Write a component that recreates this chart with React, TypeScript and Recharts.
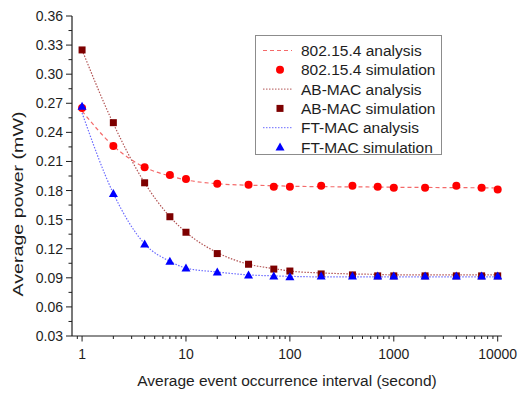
import { LineChart, Line, XAxis, YAxis, Legend } from "recharts";

// event interval (s) on a log axis
const intervals = [1, 2, 4, 7, 10, 20, 40, 70, 100, 200, 400, 700, 1000, 2000, 4000, 7000, 10000];

const ieeeAnalysis = [0.262, 0.226, 0.204, 0.195, 0.191, 0.187, 0.1855, 0.185, 0.1845, 0.184, 0.1838, 0.1836, 0.1834, 0.1832, 0.183, 0.1828, 0.1826];
const ieeeSimulation = [0.265, 0.226, 0.204, 0.196, 0.192, 0.187, 0.186, 0.184, 0.184, 0.185, 0.185, 0.184, 0.183, 0.183, 0.185, 0.183, 0.181];
const abmacAnalysis = [0.325, 0.249, 0.188, 0.153, 0.137, 0.116, 0.104, 0.0995, 0.097, 0.095, 0.094, 0.0935, 0.093, 0.093, 0.093, 0.093, 0.093];
const abmacSimulation = [0.325, 0.25, 0.188, 0.153, 0.137, 0.115, 0.104, 0.099, 0.097, 0.094, 0.093, 0.092, 0.092, 0.092, 0.092, 0.092, 0.092];
const ftmacAnalysis = [0.26, 0.177, 0.125, 0.107, 0.1, 0.096, 0.093, 0.092, 0.0915, 0.091, 0.091, 0.091, 0.091, 0.091, 0.091, 0.091, 0.091];
const ftmacSimulation = [0.267, 0.177, 0.125, 0.107, 0.1, 0.096, 0.093, 0.092, 0.091, 0.092, 0.092, 0.092, 0.092, 0.092, 0.092, 0.092, 0.092];

const xMajorTicks = [1, 10, 100, 1000, 10000];
const xMinorTicks = [0.9, 2, 3, 4, 5, 6, 7, 8, 9, 20, 30, 40, 50, 60, 70, 80, 90, 200, 300, 400, 500, 600, 700, 800, 900, 2000, 3000, 4000, 5000, 6000, 7000, 8000, 9000];
const yMajorTicks = [0.03, 0.06, 0.09, 0.12, 0.15, 0.18, 0.21, 0.24, 0.27, 0.3, 0.33, 0.36];
const yMinorTicks = [0.045, 0.075, 0.105, 0.135, 0.165, 0.195, 0.225, 0.255, 0.285, 0.315, 0.345];

const rows = intervals.map((x, i) => ({
  x,
  ieeeAna: ieeeAnalysis[i],
  ieeeSim: ieeeSimulation[i],
  abAna: abmacAnalysis[i],
  abSim: abmacSimulation[i],
  ftAna: ftmacAnalysis[i],
  ftSim: ftmacSimulation[i],
}));

const ink = "#1e1e1e";
const font = "'Liberation Sans', Arial, sans-serif";
const red = "#ff0000";
const maroon = "#7d0000";
const blue = "#0000ff";

const xTicks = [...xMinorTicks, ...xMajorTicks].sort((a, b) => a - b);
const yTicks = [...yMinorTicks, ...yMajorTicks].sort((a, b) => a - b);
const isMajorY = (v: number) => yMajorTicks.some((m) => Math.abs(m - v) < 1e-6);

function BottomTick({ x, y, payload }: any) {
  const major = xMajorTicks.includes(payload.value);
  return (
    <g>
      <line x1={x} x2={x} y1={y} y2={y + (major ? 5.5 : 3)} stroke={ink} />
      {major && (
        <text x={x} y={y + 23} textAnchor="middle" fontSize={14} fill={ink} fontFamily={font}>
          {payload.value}
        </text>
      )}
    </g>
  );
}

function TopTick({ x, y, payload }: any) {
  const major = xMajorTicks.includes(payload.value);
  return <line x1={x} x2={x} y1={y} y2={y + (major ? 5.5 : 3)} stroke={ink} />;
}

function LeftTick({ x, y, payload }: any) {
  const major = isMajorY(payload.value);
  return (
    <g>
      <line x1={x} x2={x - (major ? 6 : 3.5)} y1={y} y2={y} stroke={ink} />
      {major && (
        <text x={x - 9} y={y + 5} textAnchor="end" fontSize={14} fill={ink} fontFamily={font}>
          {payload.value.toFixed(2)}
        </text>
      )}
    </g>
  );
}

function RightTick({ x, y, payload }: any) {
  const major = isMajorY(payload.value);
  return <line x1={x} x2={x - (major ? 6 : 3.5)} y1={y} y2={y} stroke={ink} />;
}

const circleDot = (p: any) => <circle key={p.index} cx={p.cx} cy={p.cy} r={4} fill={red} />;
const squareDot = (p: any) => <rect key={p.index} x={p.cx - 3.5} y={p.cy - 3.5} width={7} height={7} fill={maroon} />;
const triangleDot = (p: any) => (
  <polygon
    key={p.index}
    points={`${p.cx},${p.cy - 4.5} ${p.cx - 4.5},${p.cy + 3.5} ${p.cx + 4.5},${p.cy + 3.5}`}
    fill={blue}
  />
);

const legendItems = [
  { name: "802.15.4 analysis", kind: "line", color: "#f46a6a", dash: "4 3" },
  { name: "802.15.4 simulation", kind: "circle", color: red },
  { name: "AB-MAC analysis", kind: "line", color: "#b25454", dash: "1.5 1.5" },
  { name: "AB-MAC simulation", kind: "square", color: maroon },
  { name: "FT-MAC analysis", kind: "line", color: "#6b6bff", dash: "1.5 1.5" },
  { name: "FT-MAC simulation", kind: "triangle", color: blue },
];

function LegendBox() {
  return (
    <div
      style={{
        width: 185,
        height: 118,
        border: "1px solid #8c8c8c",
        background: "#fff",
      }}
    >
      <svg width={185} height={118} style={{ overflow: "visible", display: "block" }}>
        {legendItems.map((item, i) => {
          const cy = 14.5 + i * 19.3;
          let mark;
          if (item.kind === "line") {
            mark = <line x1={7} x2={36} y1={cy} y2={cy} stroke={item.color} strokeDasharray={item.dash} />;
          } else if (item.kind === "circle") {
            mark = <circle cx={24} cy={cy} r={4} fill={item.color} />;
          } else if (item.kind === "square") {
            mark = <rect x={20.5} y={cy - 3.5} width={7} height={7} fill={item.color} />;
          } else {
            mark = <polygon points={`24,${cy - 4.5} 19.5,${cy + 3.5} 28.5,${cy + 3.5}`} fill={item.color} />;
          }
          return (
            <g key={item.name}>
              {mark}
              <text x={45} y={cy + 5.5} fontSize={15.5} fill={ink} fontFamily={font}>
                {item.name}
              </text>
            </g>
          );
        })}
      </svg>
    </div>
  );
}

export default function App() {
  return (
    <div style={{ position: "absolute", left: 0, top: 0 }}>
      <LineChart
        width={518}
        height={394}
        data={rows}
        margin={{ top: 16, right: 16, bottom: 0, left: 12 }}
        style={{ fontFamily: font }}
      >
        <XAxis
          dataKey="x"
          type="number"
          scale="log"
          domain={[0.8, 11000]}
          allowDataOverflow
          ticks={xTicks}
          interval={0}
          tickSize={0}
          tickMargin={0}
          tick={(p: any) => <BottomTick {...p} />}
          axisLine={{ stroke: ink, strokeWidth: 1.2 }}
          height={58}
          label={() => (
            <text x={287} y={386} textAnchor="middle" fontSize={15.5} fill={ink} fontFamily={font}>
              Average event occurrence interval (second)
            </text>
          )}
        />
        <XAxis
          xAxisId="top"
          orientation="top"
          type="number"
          scale="log"
          domain={[0.8, 11000]}
          allowDataOverflow
          ticks={xTicks}
          interval={0}
          tickSize={0}
          tickMargin={0}
          tick={(p: any) => <TopTick {...p} />}
          axisLine={{ stroke: ink, strokeWidth: 1.2 }}
          height={0}
        />
        <YAxis
          type="number"
          domain={[0.03, 0.36]}
          allowDataOverflow
          ticks={yTicks}
          interval={0}
          tickSize={0}
          tickMargin={0}
          tick={(p: any) => <LeftTick {...p} />}
          axisLine={{ stroke: ink, strokeWidth: 1.2 }}
          width={60}
          label={() => (
            <text
              x={0}
              y={0}
              transform="translate(23,204) rotate(-90)"
              textAnchor="middle"
              fontSize={15}
              textLength={185}
              lengthAdjust="spacingAndGlyphs"
              fill={ink}
              fontFamily={font}
            >
              Average power (mW)
            </text>
          )}
        />
        <YAxis
          yAxisId="right"
          orientation="right"
          type="number"
          domain={[0.03, 0.36]}
          allowDataOverflow
          ticks={yTicks}
          interval={0}
          tickSize={0}
          tickMargin={0}
          tick={(p: any) => <RightTick {...p} />}
          axisLine={{ stroke: ink, strokeWidth: 1.2 }}
          width={0}
        />
        <Line dataKey="ieeeAna" type="monotone" stroke="#f46a6a" strokeWidth={1.2} strokeDasharray="4 3" dot={false} activeDot={false} isAnimationActive={false} />
        <Line dataKey="abAna" type="monotone" stroke="#b25454" strokeWidth={1.2} strokeDasharray="1.5 1.5" dot={false} activeDot={false} isAnimationActive={false} />
        <Line dataKey="ftAna" type="monotone" stroke="#6b6bff" strokeWidth={1.2} strokeDasharray="1.5 1.5" dot={false} activeDot={false} isAnimationActive={false} />
        <Line dataKey="ieeeSim" stroke="none" dot={circleDot} activeDot={false} isAnimationActive={false} />
        <Line dataKey="abSim" stroke="none" dot={squareDot} activeDot={false} isAnimationActive={false} />
        <Line dataKey="ftSim" stroke="none" dot={triangleDot} activeDot={false} isAnimationActive={false} />
        <Legend
          layout="vertical"
          align="center"
          verticalAlign="middle"
          wrapperStyle={{ position: "absolute", left: 255, top: 35, width: 187, height: 120 }}
          content={() => <LegendBox />}
        />
      </LineChart>
    </div>
  );
}
